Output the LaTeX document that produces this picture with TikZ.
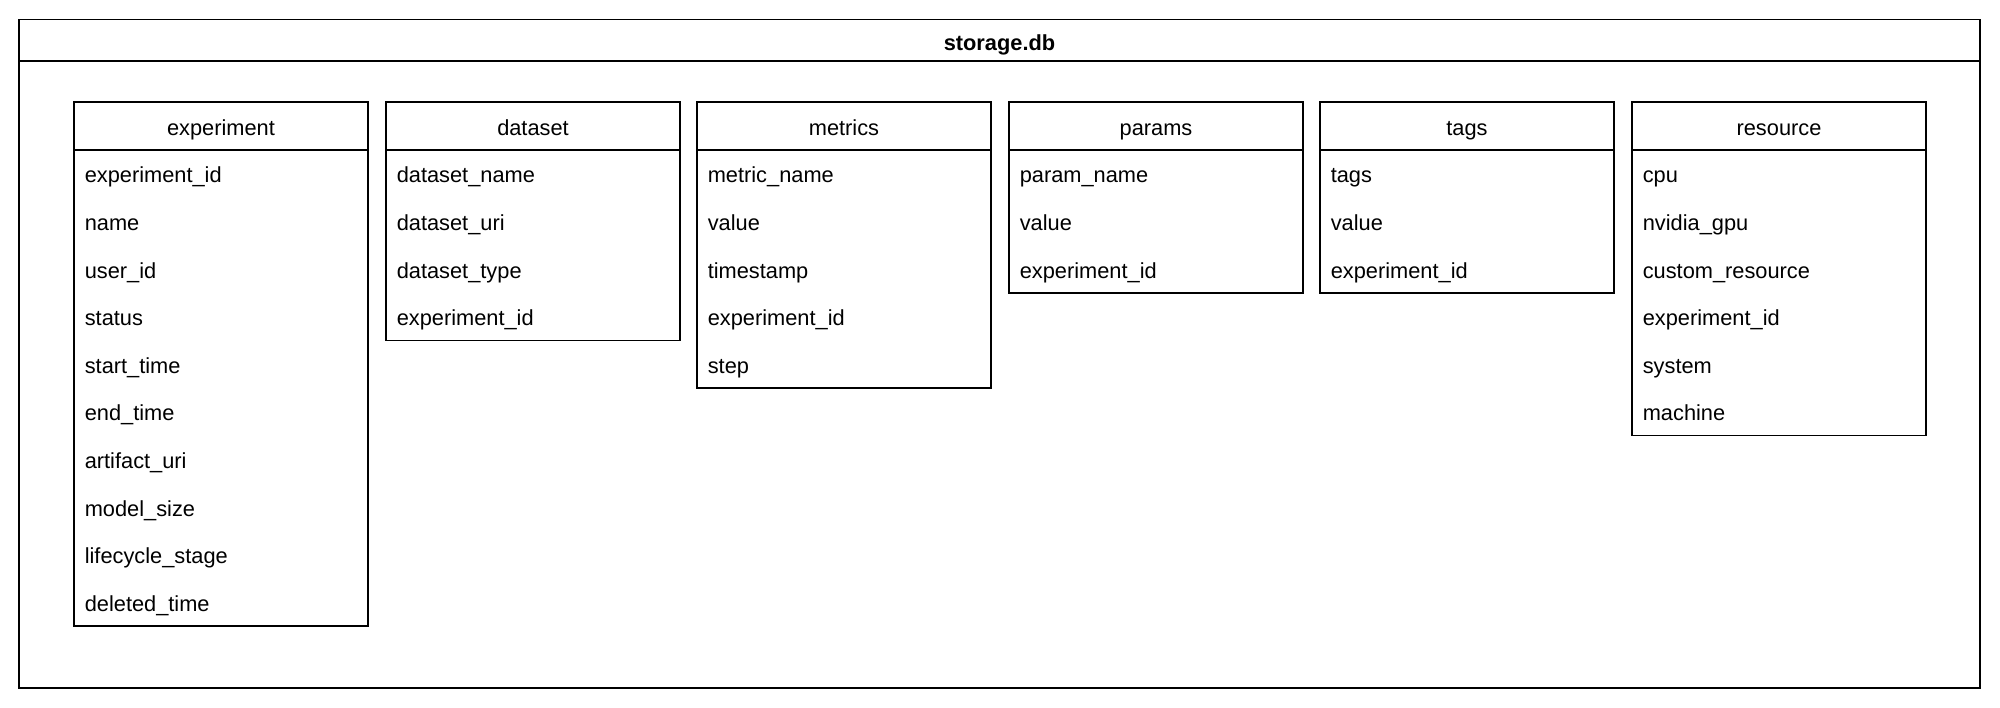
\documentclass[tikz,border=0pt]{standalone}
\usepackage{fontspec}
\setmainfont{Liberation Sans}
\newcommand\dbtable[5]{%
  \draw (#2,102) rectangle ++(294,48+47.6*#4);
  \draw (#2,150) -- ++(294,0);
  \node[head] (#1-head) at (#2+147,127.3) {#3};
  \foreach \f [count=\i] in {#5}
    \node[field] (#1-\i) at (#2+10,151.3+47.6*\i-23.8) {\f};
}
\begin{document}
\begin{tikzpicture}[x=1pt,y=-1pt,line width=1.6pt,
  every node/.style={font=\fontsize{21.8}{26}\selectfont,inner sep=0pt,
    text height=15.6pt,text depth=0pt},
  field/.style={anchor=west},
  head/.style={anchor=center}]
\useasboundingbox (0,0) rectangle (2000,708);
\draw (19,19.5) rectangle (1980,688);
\draw (19,61) -- (1980,61);
\node[font=\fontsize{21.8}{26}\selectfont\bfseries] (title) at (999.5,42.5) {storage.db};
\dbtable{experiment}{74}{experiment}{10}{experiment\_id,name,user\_id,status,start\_time,end\_time,artifact\_uri,model\_size,lifecycle\_stage,deleted\_time}
\dbtable{dataset}{386}{dataset}{4}{dataset\_name,dataset\_uri,dataset\_type,experiment\_id}
\dbtable{metrics}{697}{metrics}{5}{metric\_name,value,timestamp,experiment\_id,step}
\dbtable{params}{1009}{params}{3}{param\_name,value,experiment\_id}
\dbtable{tags}{1320}{tags}{3}{tags,value,experiment\_id}
\dbtable{resource}{1632}{resource}{6}{cpu,nvidia\_gpu,custom\_resource,experiment\_id,system,machine}
\end{tikzpicture}
\end{document}
